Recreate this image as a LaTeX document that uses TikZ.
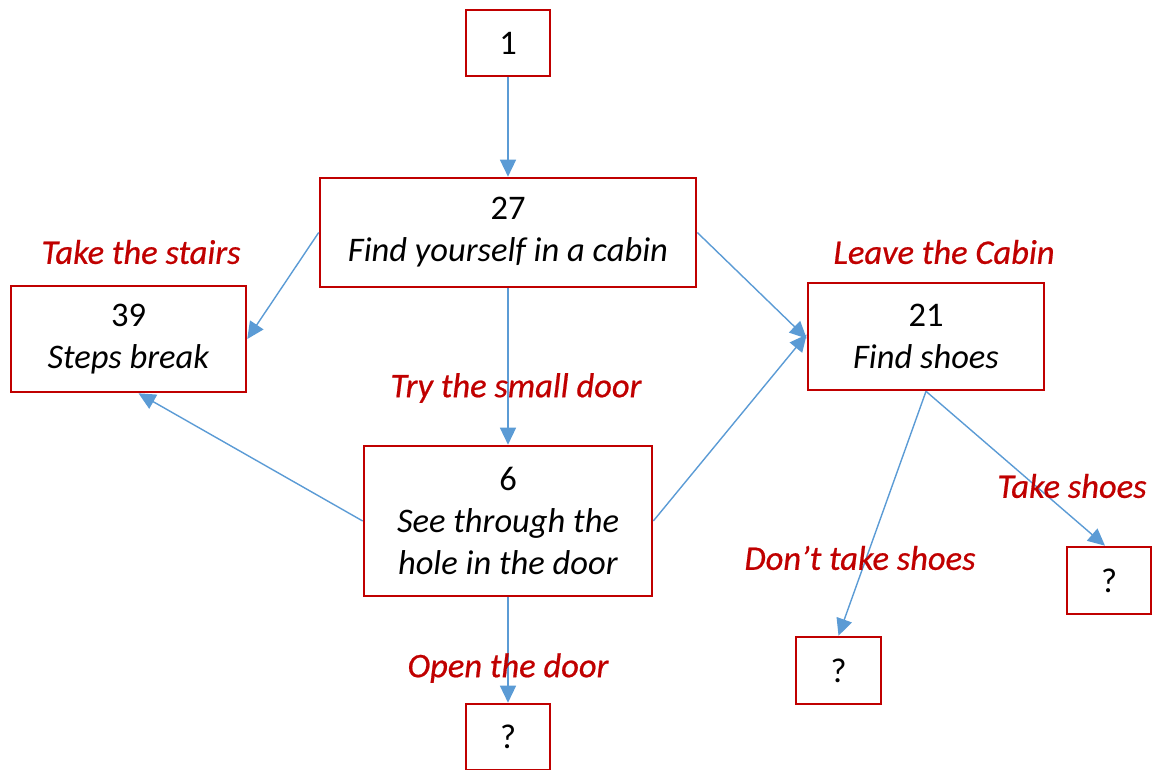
\documentclass[tikz,border=0pt]{standalone}
\usepackage{fontspec}
\setmainfont{Carlito}
\newfontfamily\choicefont[FakeBold=0.6]{Carlito}
\usetikzlibrary{arrows.meta}
\definecolor{boxred}{HTML}{C00000}
\definecolor{arrowblue}{HTML}{5B9BD5}
\tikzset{
  box/.style={draw=boxred, line width=2.6pt, fill=white, inner sep=0pt, align=center,
    font=\fontsize{34.5}{42}\selectfont},
  choice/.style={text=boxred, inner sep=0pt, font=\choicefont\fontsize{34.5}{40}\selectfont\itshape},
  link/.style={draw=arrowblue, line width=1.4pt, -{Triangle[length=17pt,width=16pt]}}
}
\begin{document}
\begin{tikzpicture}[x=1pt,y=-1pt]
\useasboundingbox (0,0) rectangle (1152,769);
\node[box, minimum width=84pt, minimum height=66pt] (n1) at (508,43) {1};
\node[box, minimum width=376pt, minimum height=109pt] (n27) at (508,232.5) {27\\\textit{Find yourself in a cabin}};
\node[box, minimum width=235pt, minimum height=106pt] (n39) at (128.5,339) {39\\\textit{Steps break}};
\node[box, minimum width=236pt, minimum height=107pt] (n21) at (926,336.5) {21\\\textit{Find shoes}};
\node[box, minimum width=288pt, minimum height=150pt] (n6) at (508,521) {6\\\textit{See through the}\\\textit{hole in the door}};
\node[box, minimum width=84pt, minimum height=66pt] (q1) at (508,737) {?};
\node[box, minimum width=85pt, minimum height=67pt] (q2) at (838.5,670.5) {?};
\node[box, minimum width=84pt, minimum height=67pt] (q3) at (1109,580.5) {?};

\draw[link] (n1.south) -- (n27.north);
\draw[link] (n27.west) -- (n39.east);
\draw[link] (n27.east) -- ([yshift=-2pt]n21.west);
\draw[link] (n27.south) -- (n6.north);
\draw[link] (n6.west) -- ([xshift=10pt]n39.south);
\draw[link] (n6.east) -- ([yshift=2pt]n21.west);
\draw[link] (n21.south) -- (q2.north);
\draw[link] (n21.south) -- ([xshift=-4pt]q3.north);
\draw[link] (n6.south) -- (q1.north);

\node[choice] (l1) at (141,252) {Take the stairs};
\node[choice] (l2) at (944,252) {Leave the Cabin};
\node[choice] (l3) at (516,388) {Try the small door};
\node[choice] (l4) at (1072,486) {Take shoes};
\node[choice] (l5) at (860,558) {Don’t take shoes};
\node[choice] (l6) at (508,668) {Open the door};
\end{tikzpicture}
\end{document}
